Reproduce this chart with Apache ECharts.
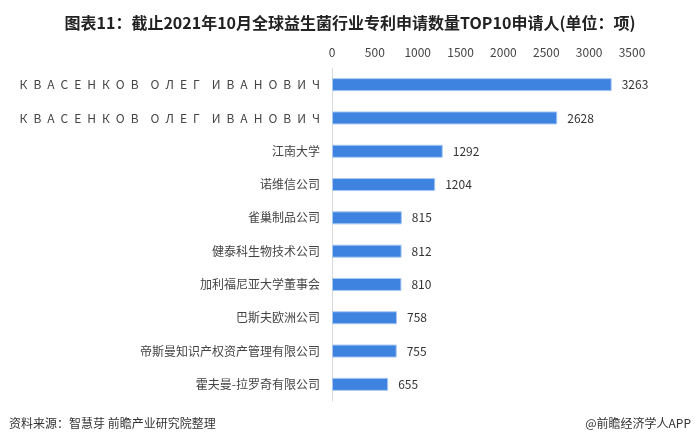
<!DOCTYPE html>
<html><head><meta charset="utf-8">
<script src="https://cdn.jsdelivr.net/npm/echarts@6/dist/echarts.min.js"></script>
<style>html,body{margin:0;padding:0;background:#fff}#c{width:700px;height:447px}</style>
</head><body><div id="c"></div>
<script>
const categories = [
  "КВАСЕНКОВ ОЛЕГ ИВАНОВИЧ",
  "КВАСЕНКОВ ОЛЕГ ИВАНОВИЧ",
  "江南大学",
  "诺维信公司",
  "雀巢制品公司",
  "健泰科生物技术公司",
  "加利福尼亚大学董事会",
  "巴斯夫欧洲公司",
  "帝斯曼知识产权资产管理有限公司",
  "霍夫曼-拉罗奇有限公司"
];
const values = [3263, 2628, 1292, 1204, 815, 812, 810, 758, 755, 655];
const xTicks = [0, 500, 1000, 1500, 2000, 2500, 3000, 3500];

// spread Latin/Cyrillic names letter by letter, as in the reference
function spread(s) {
  if (!/[А-Яа-яA-Za-z]/.test(s)) return s;
  return s.split(' ').map(w => w.split('').join('\u2002')).join('\u2002\u2002');
}

const chart = echarts.init(document.getElementById('c'), null, {renderer: 'canvas'});
chart.setOption({
  backgroundColor: '#fff',
  animation: false,
  title: [{
    text: '图表11：截止2021年10月全球益生菌行业专利申请数量TOP10申请人(单位：项)',
    left: 'center', top: 10,
    textStyle: {fontSize: 16, fontWeight: 'bold', color: '#222', fontFamily: '"Noto Sans CJK SC"'}
  }, {
    text: '资料来源：智慧芽 前瞻产业研究院整理',
    left: 4, top: 412,
    textStyle: {fontSize: 12, fontWeight: 'normal', color: '#333', fontFamily: '"Noto Sans CJK SC"'}
  }, {
    text: '@前瞻经济学人APP',
    right: 4, top: 412,
    textStyle: {fontSize: 12, fontWeight: 'normal', color: '#333', fontFamily: '"Noto Sans CJK SC"'}
  }],
  grid: {left: 332, right: 68, top: 68, bottom: 46, containLabel: false},
  xAxis: {
    type: 'value', position: 'top', min: 0, max: 3500, interval: 500,
    axisLine: {show: false}, axisTick: {show: false}, splitLine: {show: false},
    axisLabel: {color: '#444', fontSize: 12, margin: 10, fontFamily: '"Noto Sans CJK SC"',
      formatter: v => xTicks.includes(v) ? String(v) : ''}
  },
  yAxis: {
    type: 'category', data: categories, inverse: true,
    axisLine: {show: true, lineStyle: {color: '#d9d9d9', width: 1}},
    axisTick: {show: false},
    axisLabel: {color: '#444', fontSize: 12, margin: 12, fontFamily: '"Noto Sans CJK SC"',
      formatter: v => spread(v)}
  },
  series: [{
    type: 'bar', data: values, barWidth: 13,
    itemStyle: {color: '#3e83e0', borderColor: '#a8c8f2', borderWidth: 1},
    label: {show: true, position: 'right', distance: 10, color: '#333', fontSize: 12, fontFamily: '"Noto Sans CJK SC"'}
  }]
});
</script></body></html>
